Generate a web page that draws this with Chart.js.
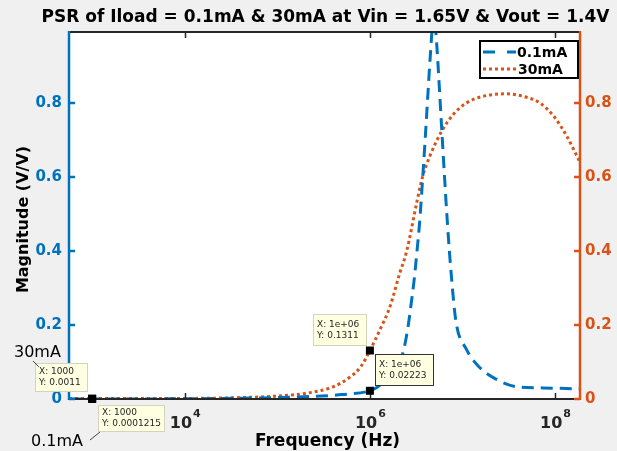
<!DOCTYPE html>
<html>
<head>
<meta charset="utf-8">
<script src="https://cdn.jsdelivr.net/npm/chart.js@4.4.1/dist/chart.umd.min.js"></script>
<style>
  html, body { margin: 0; padding: 0; background: #f0f0f0; }
</style>
</head>
<body>
<canvas id="psrChart" width="617" height="451"></canvas>
<script>
// 0.1mA load (left axis)
const freq01 = [562, 1e3, 1e4, 1e5, 3e5, 5e5, 1e6, 1.2e6, 1.4e6, 1.7e6, 2.0e6, 2.2e6, 2.4e6, 2.6e6, 2.8e6, 3.0e6, 3.2e6, 3.45e6, 3.7e6, 3.95e6, 4.2e6, 4.5e6, 4.9e6,
                5.3e6, 5.6e6, 6.0e6, 6.4e6, 6.9e6, 7.6e6, 8.5e6, 1.1e7, 1.47e7, 2.25e7, 3.9e7, 7.4e7, 1.86e8];
const mag01  = [0.0001, 0.0001215, 0.0005, 0.004, 0.008, 0.012, 0.02223, 0.032, 0.045, 0.063, 0.088, 0.112, 0.15, 0.2, 0.26, 0.32, 0.39, 0.48, 0.59, 0.70, 0.81, 0.93, 1.04,
                0.95, 0.85, 0.72, 0.60, 0.47, 0.33, 0.21, 0.135, 0.09, 0.055, 0.033, 0.03, 0.027];
// 30mA load (right axis)
const freq30 = [562, 1e3, 1e4, 3e4, 1e5, 2e5, 4e5, 6e5, 8e5, 1e6, 1.3e6, 1.65e6, 2.1e6, 2.5e6, 3.2e6, 3.7e6, 4.5e6, 6e6, 8e6, 1.1e7, 1.6e7, 3e7, 5e7, 6.9e7, 1e8, 1.34e8, 1.86e8];
const mag30  = [0.001, 0.0011, 0.0015, 0.003, 0.008, 0.015, 0.033, 0.058, 0.088, 0.1311, 0.19, 0.25, 0.34, 0.40, 0.53, 0.60, 0.66, 0.725, 0.77, 0.80, 0.817, 0.825, 0.815, 0.80, 0.76, 0.71, 0.64];

const xTicks = [1e4, 1e6, 1e8];
const yTicks = [0, 0.2, 0.4, 0.6, 0.8];

// data tips: which series, x, y, and the text MATLAB shows
const tipSeries = ['30mA', '0.1mA', '30mA', '0.1mA'];
const tipX      = [1000, 1000, 1e6, 1e6];
const tipY      = [0.0011, 0.0001215, 0.1311, 0.02223];
const tipXText  = ['1000', '1000', '1e+06', '1e+06'];
const tipYText  = ['0.0011', '0.0001215', '0.1311', '0.02223'];

const BLUE = '#0072BD';
const ORANGE = '#D95319';
const FONT = '"DejaVu Sans", sans-serif';

function toPoints(xs, ys) {
    return xs.map((x, i) => ({ x: x, y: ys[i] }));
}

// box placement for each tip relative to its marker: [dx, dy, w, h]
const tipBoxes = [
    [-57, -36, 52, 28],
    [6, 6, 66, 26],
    [-57, -36, 53, 31],
    [5, -37, 58, 31]
];

const matlabLook = {
    id: 'matlabLook',
    beforeDraw(chart) {
        const { ctx, chartArea: a } = chart;
        ctx.save();
        ctx.fillStyle = '#f0f0f0';
        ctx.fillRect(0, 0, chart.width, chart.height);
        ctx.fillStyle = '#ffffff';
        ctx.fillRect(a.left, a.top, a.right - a.left, a.bottom - a.top);
        ctx.restore();
    },
    afterDraw(chart) {
        const { ctx, chartArea: a, scales } = chart;
        const xs = scales.x, yl = scales.y, yr = scales.y2;
        ctx.save();

        // axes box
        ctx.lineWidth = 2;
        ctx.strokeStyle = '#262626';
        ctx.beginPath();
        ctx.moveTo(a.left, a.top); ctx.lineTo(a.right, a.top);
        ctx.moveTo(a.left, a.bottom); ctx.lineTo(a.right, a.bottom);
        ctx.stroke();
        ctx.lineWidth = 1.5;
        ctx.beginPath();
        xTicks.forEach(v => {
            const px = Math.round(xs.getPixelForValue(v)) + 0.5;
            ctx.moveTo(px, a.bottom); ctx.lineTo(px, a.bottom - 6);
            ctx.moveTo(px, a.top); ctx.lineTo(px, a.top + 6);
        });
        ctx.stroke();

        ctx.lineWidth = 2.5;
        ctx.strokeStyle = BLUE;
        ctx.beginPath();
        ctx.moveTo(a.left, a.top - 1); ctx.lineTo(a.left, a.bottom + 1);
        yTicks.forEach(v => {
            const py = yl.getPixelForValue(v);
            ctx.moveTo(a.left, py); ctx.lineTo(a.left + 6, py);
        });
        ctx.stroke();

        ctx.strokeStyle = ORANGE;
        ctx.beginPath();
        ctx.moveTo(a.right, a.top - 1); ctx.lineTo(a.right, a.bottom + 1);
        yTicks.forEach(v => {
            const py = yr.getPixelForValue(v);
            ctx.moveTo(a.right, py); ctx.lineTo(a.right - 6, py);
        });
        ctx.stroke();

        // x tick labels with superscript exponent
        ctx.fillStyle = '#262626';
        ctx.textBaseline = 'alphabetic';
        xTicks.forEach(v => {
            const px = xs.getPixelForValue(v);
            const exp = String(Math.round(Math.log10(v)));
            ctx.font = 'bold 16px ' + FONT;
            const wBase = ctx.measureText('10').width;
            ctx.font = 'bold 11px ' + FONT;
            const wExp = ctx.measureText(exp).width;
            const left = px - (wBase + wExp) / 2;
            ctx.font = 'bold 16px ' + FONT;
            ctx.textAlign = 'left';
            ctx.fillText('10', left, a.bottom + 29);
            ctx.font = 'bold 11px ' + FONT;
            ctx.fillText(exp, left + wBase + 1, a.bottom + 18);
        });

        // title and axis labels
        ctx.textAlign = 'center';
        ctx.fillStyle = '#000000';
        ctx.font = 'bold 17px ' + FONT;
        ctx.fillText('PSR of Iload = 0.1mA & 30mA at Vin = 1.65V & Vout = 1.4V', (a.left + a.right) / 2 + 1, 22);
        ctx.fillText('Frequency (Hz)', (a.left + a.right) / 2 + 3, 446);
        ctx.font = 'bold 16px ' + FONT;
        ctx.save();
        ctx.translate(28, (a.top + a.bottom) / 2 + 4);
        ctx.rotate(-Math.PI / 2);
        ctx.fillText('Magnitude (V/V)', 0, 0);
        ctx.restore();

        // legend
        const lx = 480, ly = 41, lw = 98, lh = 37;
        ctx.fillStyle = '#ffffff';
        ctx.fillRect(lx, ly, lw, lh);
        ctx.lineWidth = 2;
        ctx.strokeStyle = '#000000';
        ctx.strokeRect(lx, ly, lw, lh);
        ctx.lineWidth = 3;
        ctx.strokeStyle = BLUE;
        ctx.setLineDash([12, 12]);
        ctx.beginPath(); ctx.moveTo(lx + 3, ly + 11); ctx.lineTo(lx + 36, ly + 11); ctx.stroke();
        ctx.strokeStyle = ORANGE;
        ctx.setLineDash([3, 3]);
        ctx.beginPath(); ctx.moveTo(lx + 3, ly + 28); ctx.lineTo(lx + 36, ly + 28); ctx.stroke();
        ctx.setLineDash([]);
        ctx.fillStyle = '#000000';
        ctx.font = 'bold 14px ' + FONT;
        ctx.textAlign = 'left';
        ctx.textBaseline = 'middle';
        ctx.fillText('0.1mA', lx + 37, ly + 12);
        ctx.fillText('30mA', lx + 38, ly + 29);

        // data tips
        tipX.forEach((xv, i) => {
            const scale = tipSeries[i] === '30mA' ? yr : yl;
            const mx = xs.getPixelForValue(xv);
            const my = scale.getPixelForValue(tipY[i]);
            const [dx, dy, w, h] = tipBoxes[i];
            const bx = Math.round(mx + dx), by = Math.round(my + dy);
            ctx.fillStyle = '#ffffe1';
            ctx.fillRect(bx, by, w, h);
            ctx.lineWidth = 1;
            ctx.strokeStyle = i === 3 ? '#333333' : '#d4d4bc';
            ctx.strokeRect(bx + 0.5, by + 0.5, w, h);
            ctx.fillStyle = '#262626';
            ctx.font = '9px ' + FONT;
            ctx.textAlign = 'left';
            ctx.textBaseline = 'middle';
            ctx.fillText('X: ' + tipXText[i], bx + 4, by + h / 2 - 5);
            ctx.fillText('Y: ' + tipYText[i], bx + 4, by + h / 2 + 6);
            ctx.fillStyle = '#000000';
            ctx.fillRect(mx - 4, my - 4, 8, 8);
        });

        // series notes beside the low-frequency tips
        ctx.fillStyle = '#000000';
        ctx.font = '16px ' + FONT;
        ctx.textBaseline = 'alphabetic';
        ctx.fillText('30mA', 14, 357);
        ctx.fillText('0.1mA', 31, 446);
        ctx.lineWidth = 1;
        ctx.strokeStyle = '#444444';
        ctx.beginPath();
        ctx.moveTo(33, 361); ctx.lineTo(39, 367);
        ctx.moveTo(90, 440); ctx.lineTo(100, 432);
        ctx.stroke();

        ctx.restore();
    }
};

new Chart(document.getElementById('psrChart'), {
    type: 'line',
    data: {
        datasets: [{
            label: '0.1mA',
            data: toPoints(freq01, mag01),
            yAxisID: 'y',
            borderColor: BLUE,
            borderWidth: 3,
            borderDash: [12, 7],
            pointRadius: 0,
            cubicInterpolationMode: 'monotone',
            fill: false
        }, {
            label: '30mA',
            data: toPoints(freq30, mag30),
            yAxisID: 'y2',
            borderColor: ORANGE,
            borderWidth: 3,
            borderDash: [3, 3],
            pointRadius: 0,
            cubicInterpolationMode: 'monotone',
            fill: false
        }]
    },
    options: {
        responsive: false,
        animation: false,
        layout: { padding: { top: 32 } },
        plugins: {
            legend: { display: false },
            title: { display: false },
            tooltip: { enabled: false }
        },
        scales: {
            x: {
                type: 'logarithmic',
                min: 562,
                max: 1.86e8,
                afterBuildTicks: s => { s.ticks = xTicks.map(v => ({ value: v })); },
                afterFit: s => { s.height = 52; },
                ticks: { display: false },
                grid: { display: false, drawTicks: false },
                border: { display: false }
            },
            y: {
                position: 'left',
                min: 0,
                max: 0.992,
                afterBuildTicks: s => { s.ticks = yTicks.map(v => ({ value: v })); },
                afterFit: s => { s.width = 69; },
                ticks: { color: BLUE, font: { family: FONT, size: 15, weight: 'bold' }, padding: 7 },
                grid: { display: false, drawTicks: false },
                border: { display: false }
            },
            y2: {
                position: 'right',
                min: 0,
                max: 0.992,
                afterBuildTicks: s => { s.ticks = yTicks.map(v => ({ value: v })); },
                afterFit: s => { s.width = 37; },
                ticks: { color: ORANGE, font: { family: FONT, size: 15, weight: 'bold' }, padding: 5 },
                grid: { display: false, drawTicks: false },
                border: { display: false }
            }
        }
    },
    plugins: [matlabLook]
});
</script>
</body>
</html>
